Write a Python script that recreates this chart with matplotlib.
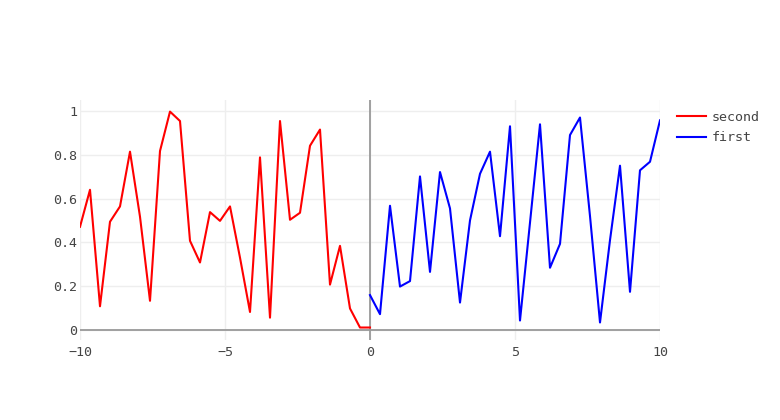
import numpy as np
import matplotlib
matplotlib.use("Agg")
import matplotlib.pyplot as plt

# red trace, 30 points on [-10, 0]
x_second = np.linspace(-10, 0, 30)
y_second = [0.471, 0.640, 0.108, 0.494, 0.564, 0.814, 0.517, 0.133, 0.817, 0.997,
            0.954, 0.407, 0.308, 0.538, 0.498, 0.564, 0.33, 0.082, 0.788, 0.056,
            0.954, 0.503, 0.535, 0.841, 0.915, 0.207, 0.384, 0.098, 0.011, 0.011]

# blue trace, 30 points on [0, 10]
x_first = np.linspace(0, 10, 30)
y_first = [0.159, 0.072, 0.567, 0.198, 0.223, 0.701, 0.265, 0.721, 0.555, 0.125,
           0.500, 0.713, 0.814, 0.428, 0.930, 0.043, 0.49, 0.939, 0.284, 0.393,
           0.890, 0.970, 0.52, 0.034, 0.41, 0.750, 0.174, 0.729, 0.768, 0.957]

x_ticks = [-10, -5, 0, 5, 10]
y_ticks = [0, 0.2, 0.4, 0.6, 0.8, 1]
y_ticklabels = ["0", "0.2", "0.4", "0.6", "0.8", "1"]

plt.rcParams['font.family'] = ['DejaVu Sans Mono']
fs = 9.6

W, H = 780, 420
fig = plt.figure(figsize=(W / 100, H / 100), dpi=100)
ax = fig.add_axes([80 / W, 1 - 340 / H, 580 / W, 240 / H])

ax.plot(x_second, y_second, color='red', lw=1.5, label='second', zorder=3)
ax.plot(x_first, y_first, color='blue', lw=1.5, label='first', zorder=3)

ax.set_xlim(-10, 10)
ax.set_ylim(-0.046, 1.05)
ax.set_xticks(x_ticks)
ax.set_yticks(y_ticks)
ax.set_yticklabels(y_ticklabels)
ax.tick_params(length=0, colors='#444', labelsize=fs)
ax.tick_params(axis='x', pad=4)
ax.tick_params(axis='y', pad=2)

ax.grid(color='#eee', lw=1)
ax.set_axisbelow(True)
ax.axhline(0, color='#999', lw=1.3, zorder=2)
ax.axvline(0, color='#999', lw=1.3, zorder=2)
for s in ax.spines.values():
    s.set_visible(False)

fig.legend(loc='upper left', bbox_to_anchor=(677 / W, 1 - 111 / H),
           frameon=False, handlelength=2.2, handletextpad=0.4, labelspacing=0.55,
           borderaxespad=0, borderpad=0, labelcolor='#444', fontsize=fs)

fig.savefig("out.png", dpi=100)
